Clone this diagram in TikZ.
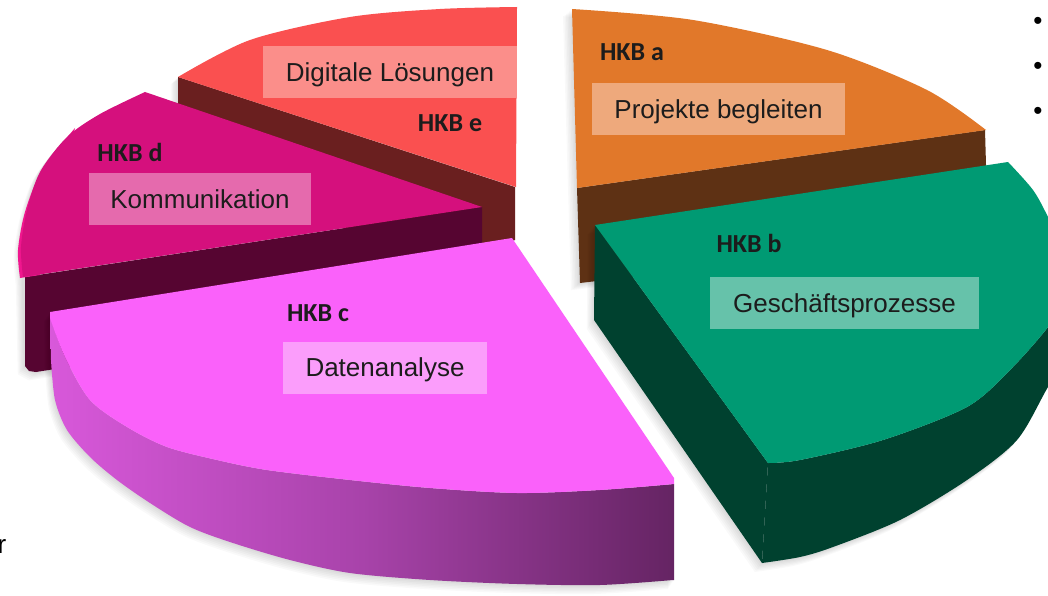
\documentclass[tikz,border=0pt]{standalone}
\usepackage{fontspec}
\setmainfont{Liberation Sans}
\newfontfamily\hkbfont{Carlito}
\definecolor{txt}{HTML}{1C1C1C}
\definecolor{eTop}{HTML}{FA5050}
\definecolor{eSide}{HTML}{6A1F1F}
\definecolor{eBox}{HTML}{FB8E8A}
\definecolor{aTop}{HTML}{E1782A}
\definecolor{aSide}{HTML}{5E3114}
\definecolor{aBox}{HTML}{EEA97C}
\definecolor{dTop}{HTML}{D5107D}
\definecolor{dSide}{HTML}{560531}
\definecolor{dRim}{HTML}{F0168E}
\definecolor{dBox}{HTML}{E56AAD}
\definecolor{cTop}{HTML}{FA61FA}
\definecolor{cBox}{HTML}{FB9DFB}
\definecolor{cSideL}{HTML}{D858DA}
\definecolor{cSideM}{HTML}{A843AA}
\definecolor{cSideR}{HTML}{652463}
\definecolor{bTop}{HTML}{009A73}
\definecolor{bSide}{HTML}{00412F}
\definecolor{bBox}{HTML}{66C2AA}
\newcommand\silA{(572,9) -- plot[smooth] coordinates {(572,9) (693,20) (827,50) (927,90) (986,130)} -- (988,235) -- (580,283) -- cycle}
\newcommand\silB{(595,225) -- plot[smooth] coordinates {(1008,162) (1033,190) (1048,217) (1066,255) (1070,290)} -- (1085,300) -- plot[smooth] coordinates {(1075,345) (1048,387) (1017,440) (967,480) (900,520) (833,547) (800,557) (762,563)} -- (594,320) -- cycle}
\newcommand\silC{(50,312) -- (512,238) -- (674,478) -- (674,580) -- plot[smooth] coordinates {(673,580) (600,585) (517,584) (430,580) (350,573) (290,560) (233,543) (190,527) (150,503) (117,480) (90,457) (67,430) (55,400) (51,360)} -- cycle}
\newcommand\silD{(482,207) -- plot[smooth] coordinates {(145,92) (100,114) (67,137) (40,172) (27,210) (21,247) (23,277)} -- (25,366) -- (36,372) -- (482,302) -- cycle}
\newcommand\silE{(178,77) -- plot[smooth] coordinates {(178,77) (250,40) (350,17) (440,9) (517,7)} -- (515,240) -- (178,200) -- cycle}
\begin{document}
\begin{tikzpicture}[x=1pt,y=-1pt,
  lbl/.style={font=\fontsize{26}{30}\selectfont, text=txt, inner sep=0pt,
    minimum height=52pt, text height=18.6pt, text depth=0pt},
  hkb/.style={font=\hkbfont\bfseries\fontsize{26}{30}\selectfont, text=txt,
    inner sep=0pt, text height=16.7pt, text depth=0pt},
  plain/.style={font=\fontsize{26}{30}\selectfont, text=black, inner sep=0pt},
  shadowlayer/.style={fill=black, fill opacity=0.022}]
\clip (0,0) rectangle (1048,596);
\fill[white] (0,0) rectangle (1048,596);
% slice e (back left)
\foreach \k in {1,...,6} {\fill[shadowlayer, shift={(-1.2*\k,1.2*\k)}] \silE;}
\fill[eSide] (178,77) -- (515,187) -- (515,240) -- (480,252) -- (178,200) -- cycle;
\fill[eTop] plot[smooth] coordinates {(178,77) (250,40) (350,17) (440,9) (517,7)} -- (516,187) -- cycle;
% slice a (back right)
\foreach \k in {1,...,6} {\fill[shadowlayer, shift={(-1.5*\k,1.2*\k)}] \silA;}
\fill[aSide] (577,188) -- (985,130) -- (988,235) -- (580,283) -- cycle;
\fill[aTop] plot[smooth] coordinates {(572,9) (693,20) (827,50) (927,90) (986,130)} -- (577,188) -- cycle;
% slice d
\foreach \k in {1,...,6} {\fill[shadowlayer, shift={(-1.2*\k,1.4*\k)}] \silD;}
\fill[dSide] (482,207) -- (25,277) -- (25,366) -- (29,371) -- (36,372) -- (482,302) -- cycle;
\fill[dRim] plot[smooth] coordinates {(75,128) (42,170) (25,212) (18,250) (20,278)} -- (40,275) -- cycle;
\fill[dTop] plot[smooth] coordinates {(145,92) (100,114) (67,137) (40,172) (27,210) (21,247) (23,277)} -- (482,207) -- cycle;
% slice b
\foreach \k in {1,...,6} {\fill[shadowlayer, shift={(-1.2*\k,1.5*\k)}] \silB;}
\fill[bSide] plot[smooth] coordinates {(768,463) (800,460) (883,440) (967,407) (1010,370) (1048,327) (1070,290)} -- (1085,300)
  -- plot[smooth] coordinates {(1075,345) (1048,387) (1017,440) (967,480) (900,520) (833,547) (800,557) (762,563)} -- cycle;
\fill[bSide] (595,225) -- (768,463) -- (762,563) -- (594,320) -- cycle;
\fill[bTop] (595,225) -- plot[smooth] coordinates {(1008,162) (1033,190) (1048,217) (1066,255) (1070,290) (1048,327) (1010,370) (967,407) (883,440) (800,460) (768,463)} -- cycle;
% slice c (front)
\foreach \k in {1,...,6} {\fill[shadowlayer, shift={(-1.0*\k,1.5*\k)}] \silC;}
\shade[left color=cSideL, right color=cSideR, middle color=cSideM]
  plot[smooth] coordinates {(50,316) (65,357) (90,400) (127,427) (167,447) (217,460) (267,470) (350,480) (430,488) (517,493) (600,490) (674,484)}
  -- (674,580)
  -- plot[smooth] coordinates {(673,580) (600,585) (517,584) (430,580) (350,573) (290,560) (233,543) (190,527) (150,503) (117,480) (90,457) (67,430) (55,400) (51,360)} -- cycle;
\fill[cTop] (50,312) -- (512,238) -- (674,478)
  -- plot[smooth] coordinates {(674,484) (600,490) (517,493) (430,488) (350,480) (267,470) (217,460) (167,447) (127,427) (90,400) (65,357) (50,318)} -- cycle;
% labels
\node[lbl, fill=eBox, minimum width=254pt] (le) at (390,72.5) {Digitale Lösungen};
\node[hkb] (he) at (450,123) {HKB e};
\node[hkb] (hd) at (130,153) {HKB d};
\node[lbl, fill=dBox, minimum width=222pt] (ld) at (200,199) {Kommunikation};
\node[hkb] (hc) at (318,313) {HKB c};
\node[lbl, fill=cBox, minimum width=204pt] (lc) at (385,367.5) {Datenanalyse};
\node[hkb] (hb) at (749,244) {HKB b};
\node[lbl, fill=bBox, minimum width=269pt] (lb) at (844.5,303) {Geschäftsprozesse};
\node[hkb] (ha) at (632,52) {HKB a};
\node[lbl, fill=aBox, minimum width=253pt] (la) at (718.5,109) {Projekte begleiten};
% bullets and clipped text
\node[plain, anchor=base] (b1) at (1038,29.5) {•};
\node[plain, anchor=base] (b2) at (1038,74.5) {•};
\node[plain, anchor=base] (b3) at (1038,119.5) {•};
\node[plain, anchor=base west] (r) at (-2.5,553) {r};
\end{tikzpicture}
\end{document}
